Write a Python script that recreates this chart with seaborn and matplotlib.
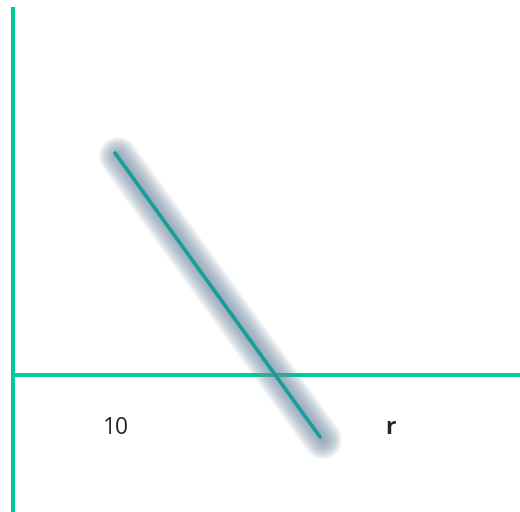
import matplotlib
matplotlib.use('Agg')
import matplotlib.pyplot as plt
import matplotlib.transforms as mtransforms
import numpy as np
import pandas as pd
import seaborn as sns

# line end points (origin where the two green axes cross)
line_x = [102, 307]
line_y = [222, -62]
labels = ['10', 'r']
label_x = [103, 377]
label_y = [-53, -53]

sns.set_style('white')
plt.rcParams['font.family'] = ['Open Sans', 'DejaVu Sans']

fig = plt.figure(figsize=(5.2, 5.12), dpi=100)
ax = fig.add_axes([0, 0, 1, 1])

# green axes
ax.plot([-1.5, 510], [0, 0], color='#00cc99', lw=2.9, zorder=1, solid_capstyle='butt')
ax.plot([0, 0], [368, -140], color='#00cc99', lw=2.9, zorder=1, solid_capstyle='butt')

# blurred shadow, built from stacked translucent strokes
shadow = mtransforms.offset_copy(ax.transData, fig=fig, x=3, y=-3, units='dots')
for w in np.linspace(28, 2, 26):
    ax.plot(line_x, line_y, color='#7890a8', lw=w, alpha=0.045,
            solid_capstyle='round', transform=shadow, zorder=2)

df = pd.DataFrame({'x': line_x, 'y': line_y})
sns.lineplot(data=df, x='x', y='y', color='#169e98', lw=2.6, ax=ax, zorder=3)

ax.text(label_x[0], label_y[0], labels[0], fontsize=16.5, ha='center', va='center')
ax.text(label_x[1], label_y[1], labels[1], fontsize=16.5, fontweight='bold',
        ha='center', va='center')

ax.set_xlim(-13, 507)
ax.set_ylim(-137, 375)
ax.axis('off')

plt.savefig('out.png', dpi=100)
